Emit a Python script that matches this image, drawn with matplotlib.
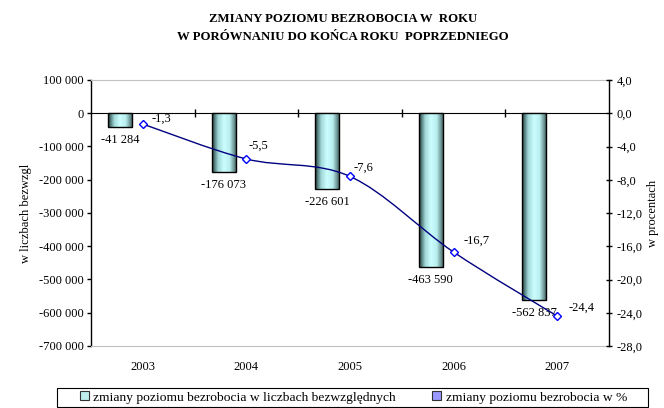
import numpy as np
import matplotlib
matplotlib.use("Agg")
import matplotlib.pyplot as plt
from matplotlib.path import Path
from matplotlib.patches import PathPatch, Patch, Rectangle
from matplotlib.colors import LinearSegmentedColormap

plt.rcParams['font.family'] = ['Liberation Serif', 'DejaVu Serif']
plt.rcParams['font.size'] = 9

# data
years = ['2003', '2004', '2005', '2006', '2007']
abs_change = [-41284, -176073, -226601, -463590, -562837]
pct_change = [-1.3, -5.5, -7.6, -16.7, -24.4]
abs_labels = ['-41 284', '-176 073', '-226 601', '-463 590', '-562 837']
pct_labels = ['-1,3', '-5,5', '-7,6', '-16,7', '-24,4']
left_ticks = [100000, 0, -100000, -200000, -300000, -400000, -500000, -600000, -700000]
right_ticks = [4, 0, -4, -8, -12, -16, -20, -24, -28]

W, H = 664, 408
fig = plt.figure(figsize=(W/100, H/100), dpi=100)
ax = fig.add_axes([91/W, 1-346/H, (609-91)/W, (346-80)/H])
ax2 = ax.twinx()

x = np.arange(len(years))
bar_off = -0.22
bar_w = 0.23

# gradient bars
cmap = LinearSegmentedColormap.from_list('bar', ['#1f3a3a', '#9fd6d6', '#ccffff', '#b8eeee', '#4f6f6f'])
grad = np.linspace(0, 1, 64).reshape(1, -1)
for xi, v in zip(x, abs_change):
    rect = Rectangle((xi + bar_off - bar_w/2, 0), bar_w, v, facecolor='none',
                     edgecolor='black', linewidth=1.0, zorder=3)
    ax.add_patch(rect)
    im = ax.imshow(grad, cmap=cmap, aspect='auto', zorder=2,
                   extent=(xi + bar_off - bar_w/2, xi + bar_off + bar_w/2, v, 0))
    im.set_clip_path(rect)

for xi, v, lab in zip(x, abs_change, abs_labels):
    ax.annotate(lab, (xi + bar_off, v), xytext=(0, -5), textcoords='offset points',
                ha='center', va='top', fontsize=9)

ax.set_xlim(-0.5, len(years) - 0.5)
ax.set_ylim(-700000, 100000)
ax.set_yticks(left_ticks)
ax.set_yticklabels([f'{t:,}'.replace(',', ' ') for t in left_ticks])
ax.tick_params(axis='y', direction='out', length=3, width=1, pad=2)
ax.set_xticks(x)
ax.set_xticklabels(years)
ax.tick_params(axis='x', length=0, pad=11)
for s in ['top', 'bottom']:
    ax.spines[s].set_color('#c0c0c0')
ax.spines['left'].set_linewidth(1.0)
ax.spines['right'].set_visible(False)
ax.set_ylabel('w liczbach bezwzgl', labelpad=5)

# zero axis with category separators
sec = ax.secondary_xaxis(1 - 100000/800000)
sec.set_xticks(np.arange(len(years) - 1) + 0.5)
sec.set_xticklabels([])
sec.tick_params(direction='inout', length=6, width=1)
sec.spines['bottom'].set_linewidth(1.0)

# smoothed percentage line (Catmull-Rom bezier)
pts = np.column_stack([x, pct_change]).astype(float)
ext = np.vstack([pts[0], pts, pts[-1]])
verts = [tuple(pts[0])]
codes = [Path.MOVETO]
for i in range(len(pts) - 1):
    p0, p1, p2, p3 = ext[i], ext[i+1], ext[i+2], ext[i+3]
    verts += [tuple(p1 + (p2 - p0)/6), tuple(p2 - (p3 - p1)/6), tuple(p2)]
    codes += [Path.CURVE4] * 3
ax2.add_patch(PathPatch(Path(verts, codes), facecolor='none', edgecolor='#000080',
                        linewidth=1.0, zorder=4))
ax2.plot(x, pct_change, linestyle='none', marker='D', markersize=4.5,
         markerfacecolor='white', markeredgecolor='#0000ff', markeredgewidth=1.0, zorder=5)

pct_offsets = [(13.5, 4), (8.5, 9.5), (9.5, 6.5), (16.5, 8), (17.5, 6)]
for xi, v, lab, off in zip(x, pct_change, pct_labels, pct_offsets):
    ax2.annotate(lab, (xi, v), xytext=off, textcoords='offset points',
                 ha='center', va='center', fontsize=9)

ax2.set_ylim(-28, 4)
ax2.set_yticks(right_ticks)
ax2.set_yticklabels([f'{t:.1f}'.replace('.', ',') for t in right_ticks])
ax2.tick_params(axis='y', direction='inout', length=5, width=1, pad=3)
ax2.spines['right'].set_linewidth(1.0)
for s in ['top', 'bottom', 'left']:
    ax2.spines[s].set_visible(False)
ax2.set_ylabel('w procentach', rotation=90, labelpad=3)

fig.text(343/W, 1-13/H, 'ZMIANY POZIOMU BEZROBOCIA W  ROKU\nW PORÓWNANIU DO KOŃCA ROKU  POPRZEDNIEGO',
         ha='center', va='top', fontsize=9.2, fontweight='bold', linespacing=1.7)

# legend frame and entries
fig.add_artist(Rectangle((57/W, 1-407/H), (648-57)/W, (407-388)/H, transform=fig.transFigure,
                         facecolor='white', edgecolor='black', linewidth=0.8))
handles = [Patch(facecolor='#bfeeee', edgecolor='#333333', linewidth=0.8),
           Patch(facecolor='#9999ff', edgecolor='#333333', linewidth=0.8)]
fig.legend(handles, ['zmiany poziomu bezrobocia w liczbach bezwzględnych',
                     'zmiany poziomu bezrobocia w %'],
           loc='center left', bbox_to_anchor=(80/W, 1-407/H, (627-80)/W, (407-388)/H),
           mode='expand', ncol=2, frameon=False,
           handlelength=0.65, handleheight=0.65, handletextpad=0.35,
           borderaxespad=0, borderpad=0, fontsize=9.7)

fig.savefig('out.png', dpi=100)
